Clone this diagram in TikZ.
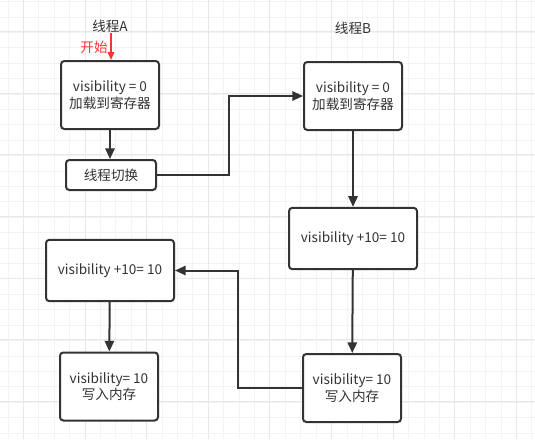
\documentclass[tikz,border=0pt]{standalone}
\usepackage{fontspec}
\newfontfamily\cjk{Noto Sans CJK SC}
\usetikzlibrary{arrows.meta}
\definecolor{linegray}{HTML}{333333}
\definecolor{gridminor}{HTML}{F3F3F3}
\definecolor{gridmajor}{HTML}{E8E8E8}
\definecolor{startred}{HTML}{FF3333}

\begin{document}
\begin{tikzpicture}[x=0.75pt, y=-0.75pt, font=\cjk\fontsize{10.2}{12.5}\selectfont, text=linegray,
  >={Triangle[length=8pt, width=7pt]},
  box/.style={draw=linegray, line width=1.5pt, rounded corners=2.5pt, fill=white, align=center,
    minimum width=73.5pt, minimum height=51pt, inner sep=2pt},
  widebox/.style={box, minimum width=96pt, minimum height=46pt},
  flow/.style={->, draw=linegray, line width=1.5pt}]
  \useasboundingbox (0,0) rectangle (535,439);
  % background grid
  \fill[white] (0,0) rectangle (535,439);
  \foreach \i in {0,...,34} \draw[gridminor, line width=0.75pt] ({8+15.41*\i},0) -- ({8+15.41*\i},439);
  \foreach \i in {0,...,28} \draw[gridminor, line width=0.75pt] (0,{1.6+15.41*\i}) -- (535,{1.6+15.41*\i});
  \foreach \i in {0,...,8} \draw[gridmajor, line width=0.75pt] ({23.4+61.64*\i},0) -- ({23.4+61.64*\i},439);
  \foreach \i in {0,...,6} \draw[gridmajor, line width=0.75pt] (0,{31.7+61.64*\i}) -- (535,{31.7+61.64*\i});
  % titles
  \node (ta) at (110,26) {线程A};
  \node (tb) at (353,28) {线程B};
  % thread A
  \node[box] (a1) at (110,95) {visibility = 0\\加载到寄存器};
  \node[box, minimum width=67.5pt, minimum height=22.5pt] (sw) at (111,175) {线程切换};
  \node[widebox] (a3) at (110,270.5) {visibility +10= 10};
  \node[box] (a4) at (109,386.5) {visibility= 10\\写入内存};
  % thread B
  \node[box] (b1) at (353,96) {visibility = 0\\加载到寄存器};
  \node[widebox] (b2) at (353,238.5) {visibility +10= 10};
  \node[box] (b3) at (352,388) {visibility= 10\\写入内存};
  % start
  \node[text=startred] (start) at (94,47) {开始};
  \coordinate (s0) at (111,33);
  \draw[->, startred, line width=1.1pt, >={Triangle[length=6pt, width=5pt]}] (s0) -- (s0 |- a1.north);
  % connectors
  \draw[flow] (a1.south) -- (a1.south |- sw.north);
  \draw[flow] (sw.east) -- ++(72,0) |- (b1.west);
  \draw[flow] (b1) -- (b2);
  \draw[flow] (b2) -- (b3);
  \draw[flow] (b3.west) -- ++(-64,0) |- (a3.east);
  \draw[flow] (a3) -- (a4);
\end{tikzpicture}
\end{document}
